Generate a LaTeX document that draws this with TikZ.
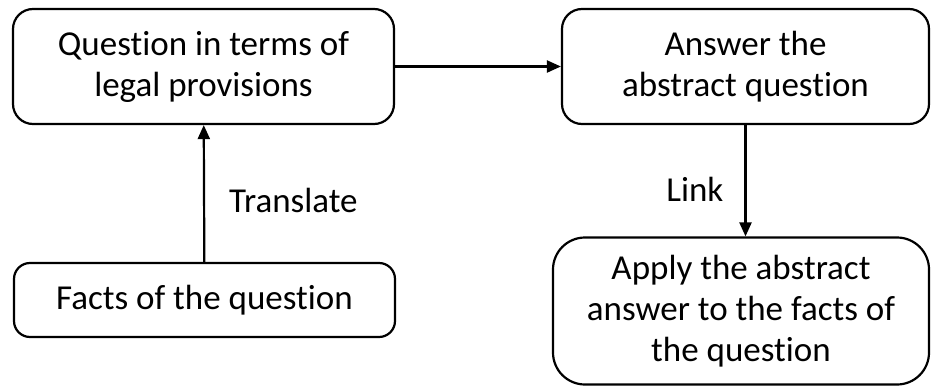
\documentclass[tikz,border=0pt]{standalone}
\usepackage{fontspec}
\setmainfont[Ligatures=NoCommon]{Carlito}
\usetikzlibrary{arrows.meta, positioning}

\begin{document}
\begin{tikzpicture}[
        x=1pt, y=-1pt,
        step box/.style={rectangle, draw, line width=2.2pt, rounded corners=20pt, align=center, font=\fontsize{35}{41}\selectfont, inner sep=0pt},
        link/.style={draw, -{Triangle[length=14pt, width=12pt]}, line width=2.2pt},
        tag/.style={font=\fontsize{35}{41}\selectfont, inner sep=0pt}
        ]
        \useasboundingbox (0,0) rectangle (931,388);

        % Nodes
        \node (question) [step box, minimum width=381pt, minimum height=115pt] at (203.5,66.5) {Question in terms of\\legal provisions};
        \node (answer) [step box, minimum width=367pt, minimum height=115pt] at (745.5,66.5) {Answer the\\abstract question};
        \node (facts) [step box, rounded corners=16pt, minimum width=381pt, minimum height=74pt] at (204.5,300) {Facts of the question};
        \node (apply) [step box, rounded corners=32pt, minimum width=376pt, minimum height=147pt] at (741,311) {Apply the abstract\\answer to the facts of\\the question};

        % Arrows with labels
        \draw [link] (question) -- (answer);
        \draw [link] (facts) -- node[tag, pos=0.45, right=24pt] {Translate} (question);
        \draw [link] (answer.south) -- node[tag, pos=0.58, left=21pt] {Link} (answer.south |- apply.north);

    \end{tikzpicture}
\end{document}
